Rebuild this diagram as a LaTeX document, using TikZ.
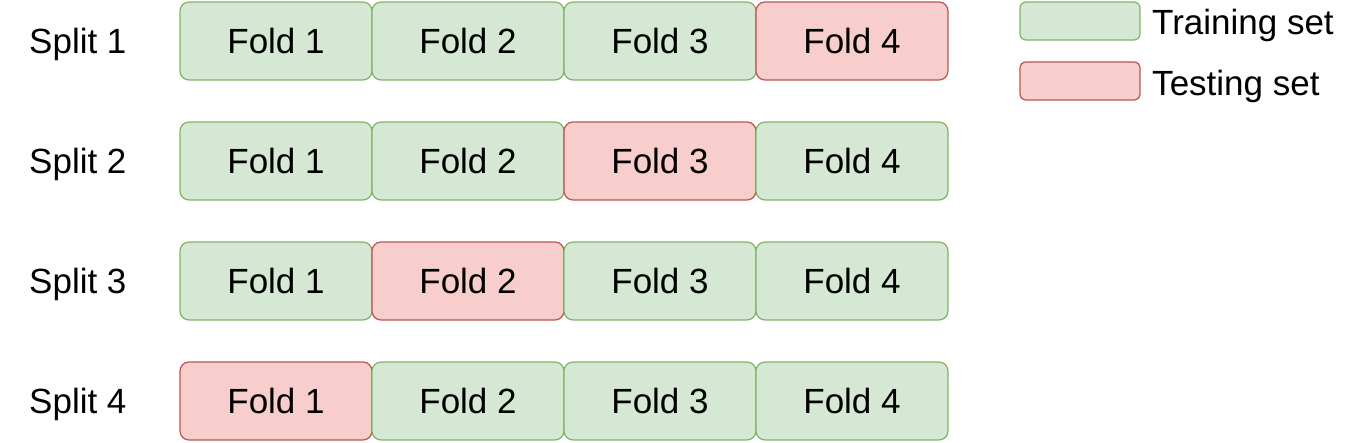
\documentclass[tikz,border=0pt]{standalone}
\usepackage{fontspec}
\setmainfont{Liberation Sans}
\definecolor{gfill}{HTML}{D5E8D4}\definecolor{gdraw}{HTML}{82B366}
\definecolor{rfill}{HTML}{F8CECC}\definecolor{rdraw}{HTML}{B85450}
\begin{document}
\begin{tikzpicture}[x=1pt,y=-1pt,
  fold/.style={draw, line width=1.2pt, rounded corners=9pt, minimum width=192pt, minimum height=78pt, inner sep=0pt, font=\fontsize{35}{40}\selectfont},
  train/.style={fold, fill=gfill, draw=gdraw},
  test/.style={fold, fill=rfill, draw=rdraw},
  lab/.style={font=\fontsize{35}{40}\selectfont, inner sep=0pt}]
\useasboundingbox (0,0) rectangle (1346,442);
\foreach \r/\t in {1/4,2/3,3/2,4/1}{
  \pgfmathsetmacro{\yy}{41+120*(\r-1)}
  \pgfmathsetmacro{\ly}{44+120*(\r-1)}
  \node[lab,anchor=west] (s\r) at (29,\ly) {Split \r};
  \foreach \c in {1,...,4}{
    \pgfmathsetmacro{\xx}{276+192*(\c-1)}
    \ifnum\c=\t
      \node[test] (f\r\c) at (\xx,\yy) {\raisebox{-2pt}{Fold \c}};
    \else
      \node[train] (f\r\c) at (\xx,\yy) {\raisebox{-2pt}{Fold \c}};
    \fi
  }
}
\node[fold, fill=gfill, draw=gdraw, minimum width=120pt, minimum height=38pt, rounded corners=6pt] (lg) at (1080,21) {};
\node[fold, fill=rfill, draw=rdraw, minimum width=120pt, minimum height=38pt, rounded corners=6pt] (lr) at (1080,81) {};
\node[lab,anchor=west] (tg) at (1152,25) {Training set};
\node[lab,anchor=west] (tr) at (1152,86) {Testing set};
\end{tikzpicture}
\end{document}
